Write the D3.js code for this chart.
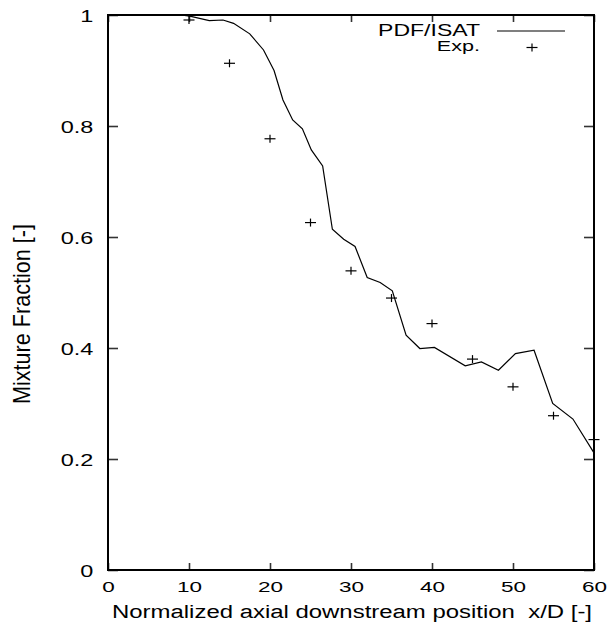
<!DOCTYPE html>
<html>
<head>
<meta charset="utf-8">
<script src="https://cdn.jsdelivr.net/npm/d3@7"></script>
<style>
  body { margin: 0; background: #fff; }
  text { font-family: "Liberation Sans", Arial, Helvetica, sans-serif; fill: #000; }
</style>
</head>
<body>
<div id="chart"></div>
<script>
// simulation curve (PDF/ISAT)
var pdfX = [0, 9, 10.1, 12.5, 14.2, 15.5, 17.5, 19.2, 20.5, 21.6, 22.8, 24.0, 25.1, 26.5, 27.7, 29.1, 30.5, 32.0, 33.6, 35.1, 36.8, 38.5, 40.3, 44.1, 46.1, 48.2, 50.3, 52.6, 54.9, 57.4, 60];
var pdfY = [1, 1, 0.998, 0.99, 0.991, 0.985, 0.966, 0.937, 0.9, 0.847, 0.811, 0.795, 0.757, 0.728, 0.614, 0.596, 0.583, 0.527, 0.518, 0.503, 0.423, 0.399, 0.401, 0.368, 0.375, 0.360, 0.390, 0.396, 0.300, 0.272, 0.211];

// experiment points
var expX = [10, 15, 20, 25, 30, 35, 40, 45, 50, 55, 60];
var expY = [0.991, 0.913, 0.777, 0.626, 0.539, 0.490, 0.444, 0.380, 0.330, 0.278, 0.235];

// tick values
var xTicks = [0, 10, 20, 30, 40, 50, 60];
var yTicks = [0, 0.2, 0.4, 0.6, 0.8, 1];

var svgWidth = 609;
var svgHeight = 628;
var plotLeft = 108, plotRight = 594, plotTop = 15, plotBottom = 570;
var stretch = 1.44; // text in the original looks wider than normal

var svg = d3.select("#chart")
  .append("svg")
  .attr("width", svgWidth)
  .attr("height", svgHeight);

var x = d3.scaleLinear().domain([0, 60]).range([plotLeft, plotRight]);
var y = d3.scaleLinear().domain([0, 1]).range([plotBottom, plotTop]);

// axes with inward ticks
var xAxis = svg.append("g")
  .attr("transform", `translate(0, ${plotBottom})`)
  .call(d3.axisBottom(x).tickValues(xTicks).tickSize(-7).tickSizeOuter(0).tickFormat(d => String(d)));
xAxis.selectAll("text")
  .attr("y", 22).attr("dy", null)
  .attr("transform", "scale(1.5,1)")
  .style("font-size", "15px");

var yAxis = svg.append("g")
  .attr("transform", `translate(${plotLeft}, 0)`)
  .call(d3.axisLeft(y).tickValues(yTicks).tickSize(-10).tickSizeOuter(0).tickFormat(d => String(d)));
yAxis.selectAll("text")
  .attr("x", -10.65).attr("dy", "0.36em")
  .attr("transform", "scale(1.38,1)")
  .style("font-size", "17px");

svg.append("g")
  .attr("transform", `translate(0, ${plotTop})`)
  .call(d3.axisTop(x).tickValues(xTicks).tickSize(-7).tickSizeOuter(0).tickFormat(""));

svg.append("g")
  .attr("transform", `translate(${plotRight}, 0)`)
  .call(d3.axisRight(y).tickValues(yTicks).tickSize(-10).tickSizeOuter(0).tickFormat(""));

svg.selectAll(".domain").remove();
svg.selectAll(".tick line").attr("stroke", "#333").attr("stroke-width", 1.6);

// frame
svg.append("rect")
  .attr("x", plotLeft).attr("y", plotTop)
  .attr("width", plotRight - plotLeft).attr("height", plotBottom - plotTop)
  .attr("fill", "none").attr("stroke", "#000").attr("stroke-width", 2);

// PDF/ISAT line
var pdfData = pdfX.map((d, i) => [d, pdfY[i]]);
var line = d3.line().x(d => x(d[0])).y(d => y(d[1]));
svg.append("path")
  .datum(pdfData)
  .attr("d", line)
  .attr("fill", "none")
  .attr("stroke", "#000")
  .attr("stroke-width", 1.2);

// experiment crosses
function cross(g, cx, cy) {
  g.append("line").attr("x1", cx - 5.5).attr("x2", cx + 5.5).attr("y1", cy).attr("y2", cy);
  g.append("line").attr("x1", cx).attr("x2", cx).attr("y1", cy - 4).attr("y2", cy + 4);
}
var expG = svg.append("g").attr("stroke", "#000").attr("stroke-width", 1.2);
expX.forEach((d, i) => cross(expG, x(d), y(expY[i])));

// legend
svg.append("text")
  .attr("transform", `translate(480, 36) scale(${stretch},1)`)
  .attr("text-anchor", "end")
  .style("font-size", "16px")
  .text("PDF/ISAT");
svg.append("line")
  .attr("x1", 497).attr("x2", 565).attr("y1", 31).attr("y2", 31)
  .attr("stroke", "#000").attr("stroke-width", 1.2);
svg.append("text")
  .attr("transform", `translate(480, 51) scale(${stretch},1)`)
  .attr("text-anchor", "end")
  .style("font-size", "15px")
  .text("Exp.");
var legG = svg.append("g").attr("stroke", "#000").attr("stroke-width", 1.2);
cross(legG, 532, 47.5);

// axis titles
svg.append("text")
  .attr("x", 352).attr("y", 618)
  .attr("text-anchor", "middle")
  .attr("textLength", 480)
  .attr("lengthAdjust", "spacingAndGlyphs")
  .style("font-size", "18px")
  .style("white-space", "pre")
  .text("Normalized axial downstream position  x/D [-]");

svg.append("text")
  .attr("transform", `translate(30, 314) scale(${stretch},1) rotate(-90)`)
  .attr("text-anchor", "middle")
  .attr("textLength", 180)
  .attr("lengthAdjust", "spacingAndGlyphs")
  .style("font-size", "16px")
  .text("Mixture Fraction [-]");
</script>
</body>
</html>
